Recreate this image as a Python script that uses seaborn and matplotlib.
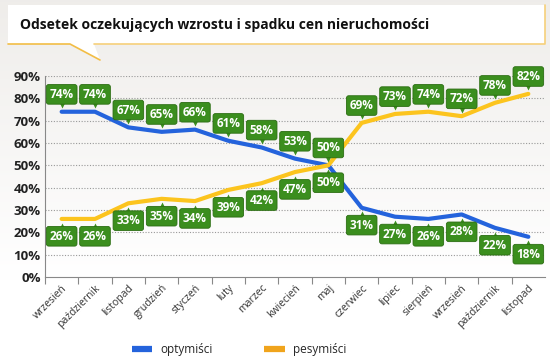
import numpy as np
import pandas as pd
import matplotlib
import matplotlib.pyplot as plt
import matplotlib.patches as mpatches
from matplotlib.lines import Line2D
from matplotlib.transforms import offset_copy
import seaborn as sns

# data
months = ['wrzesień', 'październik', 'listopad', 'grudzień', 'styczeń', 'luty',
          'marzec', 'kwiecień', 'maj', 'czerwiec', 'lipiec', 'sierpień',
          'wrzesień', 'październik', 'listopad']
optymisci = [74, 74, 67, 65, 66, 61, 58, 53, 50, 31, 27, 26, 28, 22, 18]
pesymisci = [26, 26, 33, 35, 34, 39, 42, 47, 50, 69, 73, 74, 72, 78, 82]
yticks = [0, 10, 20, 30, 40, 50, 60, 70, 80, 90]

sns.set_style("white")
plt.rcParams['font.family'] = ['Open Sans', 'DejaVu Sans']

blue = '#2463dc'
yellow = '#fcc41e'
green = '#3b8e1e'

fig = plt.figure(figsize=(5.5, 3.63), dpi=100)

# background gradient (grey at top, white at the bottom)
bg = fig.add_axes([0, 0, 1, 1], zorder=-10)
grad = np.linspace(0, 1, 256).reshape(-1, 1)
top = np.array([0.937, 0.929, 0.918])
bot = np.array([1.0, 1.0, 1.0])
t = np.clip(grad * 1.3, 0, 1)
img = top * (1 - t) + bot * t
bg.imshow(img.reshape(256, 1, 3), aspect='auto', extent=[0, 1, 0, 1])
bg.set_axis_off()

# title box with speech pointer
W, H = 550.0, 363.0
def fx(x):
    return x / W
def fy(y):
    return 1 - y / H
box = mpatches.Rectangle((fx(8), fy(44)), fx(537), 39 / H, transform=fig.transFigure,
                         facecolor='white', edgecolor='none', zorder=1)
fig.patches.append(box)
tail = mpatches.Polygon([(fx(70), fy(44)), (fx(94), fy(44)), (fx(100), fy(60))],
                        closed=True, transform=fig.transFigure, facecolor='white',
                        edgecolor='none', zorder=1)
fig.patches.append(tail)
fig.lines.append(Line2D([fx(8), fx(70), fx(100)], [fy(44), fy(44), fy(60)],
                        transform=fig.transFigure, color='#f2bd45', lw=1.2, zorder=2))
fig.lines.append(Line2D([fx(94), fx(545), fx(545)], [fy(44), fy(44), fy(5)],
                        transform=fig.transFigure, color='#f6d07a', lw=1.2, zorder=2))
fig.text(fx(20), fy(25), 'Odsetek oczekujących wzrostu i spadku cen nieruchomości',
         fontsize=10, fontweight='bold', color='#111111', va='center', zorder=3)

ax = fig.add_axes([45 / W, 1 - 277 / H, 500 / W, 201 / H])
ax.patch.set_alpha(0)

df = pd.DataFrame({
    'x': list(range(len(months))) * 2,
    'value': optymisci + pesymisci,
    'group': ['optymiści'] * len(months) + ['pesymiści'] * len(months),
})
sns.lineplot(data=df, x='x', y='value', hue='group',
             palette={'optymiści': blue, 'pesymiści': yellow},
             linewidth=3.0, legend=False, ax=ax, zorder=3)

ax.set_xlim(-0.5, len(months) - 0.5)
ax.set_ylim(0, 90)
ax.set_yticks(yticks)
ax.set_yticklabels([f'{v}%' for v in yticks], fontsize=9.5, fontweight='bold', color='#222222')
ax.set_xticks(np.arange(len(months)) - 0.5, minor=False)
ax.set_xticklabels([])
ax.set_xticks(np.arange(len(months)), minor=True)
ax.set_xticklabels(months, minor=True, rotation=45, ha='right', rotation_mode='anchor',
                   fontsize=7.5, color='#333333')
ax.tick_params(axis='x', which='major', length=5, color='#888888', direction='out', bottom=True)
ax.tick_params(axis='x', which='minor', length=0, pad=4)
ax.tick_params(axis='y', length=0, pad=3)
ax.set_xlabel('')
ax.set_ylabel('')
for yv in yticks[1:]:
    ax.axhline(yv, color='#999999', lw=0.8, ls=(0, (1, 1.5)), zorder=1)
for s in ['top', 'right']:
    ax.spines[s].set_visible(False)
ax.spines['left'].set_color('#888888')
ax.spines['bottom'].set_color('#888888')


def tag(i, v, above):
    dy = 12.5 if above else -12.5
    ax.annotate(f'{v}%', xy=(i, v), xytext=(0, dy), textcoords='offset points',
                ha='center', va='center', fontsize=8.5, fontweight='bold', color='white',
                bbox=dict(boxstyle='round,pad=0.28,rounding_size=0.2', fc=green,
                          ec='#2b6d12', lw=0.6), zorder=6)
    tr = offset_copy(ax.transData, fig=fig, x=0, y=(5.5 if above else -5.5), units='points')
    ax.plot([i], [v], marker='v' if above else '^', ms=6, color=green, mec='none',
            transform=tr, zorder=5, clip_on=False)


for i in range(len(months)):
    opt_up = optymisci[i] >= pesymisci[i]
    tag(i, optymisci[i], opt_up)
    tag(i, pesymisci[i], not opt_up)

handles = [Line2D([0], [0], color=blue, lw=4.5, solid_capstyle='butt'),
           Line2D([0], [0], color='#f0a41c', lw=4.5, solid_capstyle='butt')]
fig.legend(handles, ['optymiści', 'pesymiści'], loc='center', ncol=2,
           bbox_to_anchor=(239 / W, 1 - 350 / H), frameon=False, fontsize=8.5,
           handlelength=1.7, columnspacing=4.4, handletextpad=0.7)

fig.savefig('out.png', dpi=100)
